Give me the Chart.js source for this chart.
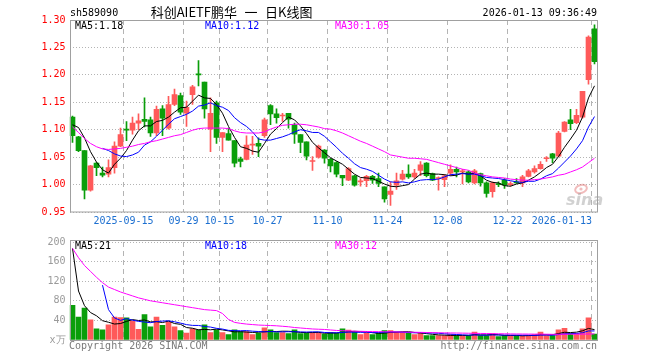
<!DOCTYPE html>
<html>
<head>
<meta charset="utf-8">
<script src="https://cdn.jsdelivr.net/npm/chart.js@4.4.1/dist/chart.umd.min.js"></script>
<style>
  html, body { margin: 0; padding: 0; background: #fff; }
  #wrap { position: relative; width: 660px; height: 360px; overflow: hidden; }
  #kline { position: absolute; left: 0; top: 0; }
  #vol { position: absolute; left: 0; top: 232px; }
</style>
</head>
<body>
<div id="wrap">
  <canvas id="kline" width="660" height="232"></canvas>
  <canvas id="vol" width="660" height="128"></canvas>
</div>
<script>
// trading days shown on the chart
const dates = [
  '2025-09-02','2025-09-03','2025-09-04','2025-09-05','2025-09-08','2025-09-09','2025-09-10','2025-09-11','2025-09-12','2025-09-15',
  '2025-09-16','2025-09-17','2025-09-18','2025-09-19','2025-09-22','2025-09-23','2025-09-24','2025-09-25','2025-09-26','2025-09-29',
  '2025-09-30','2025-10-09','2025-10-10','2025-10-13','2025-10-14','2025-10-15','2025-10-16','2025-10-17','2025-10-20','2025-10-21',
  '2025-10-22','2025-10-23','2025-10-24','2025-10-27','2025-10-28','2025-10-29','2025-10-30','2025-10-31','2025-11-03','2025-11-04',
  '2025-11-05','2025-11-06','2025-11-07','2025-11-10','2025-11-11','2025-11-12','2025-11-13','2025-11-14','2025-11-17','2025-11-18',
  '2025-11-19','2025-11-20','2025-11-21','2025-11-24','2025-11-25','2025-11-26','2025-11-27','2025-11-28','2025-12-01','2025-12-02',
  '2025-12-03','2025-12-04','2025-12-05','2025-12-08','2025-12-09','2025-12-10','2025-12-11','2025-12-12','2025-12-15','2025-12-16',
  '2025-12-17','2025-12-18','2025-12-19','2025-12-22','2025-12-23','2025-12-24','2025-12-25','2025-12-26','2025-12-29','2025-12-30',
  '2025-12-31','2026-01-05','2026-01-06','2026-01-07','2026-01-08','2026-01-09','2026-01-12','2026-01-13'
];

const open = [
  1.123,1.087,1.062,0.990,1.039,1.021,1.019,1.031,1.070,1.101,
  1.099,1.112,1.119,1.118,1.094,1.138,1.103,1.146,1.162,1.130,
  1.164,1.201,1.187,1.101,1.149,1.086,1.093,1.080,1.047,1.046,
  1.072,1.075,1.089,1.144,1.129,1.125,1.130,1.109,1.091,1.078,
  1.042,1.050,1.063,1.046,1.040,1.017,1.008,1.016,1.005,1.007,
  1.015,1.011,0.996,0.982,0.999,1.010,1.019,1.014,1.026,1.039,
  1.020,1.011,1.009,1.021,1.028,1.023,1.023,1.003,1.020,1.003,
  0.987,1.001,1.008,1.000,1.005,1.003,1.015,1.023,1.029,1.047,
  1.056,1.052,1.097,1.118,1.113,1.123,1.191,1.284
];
const high = [
  1.125,1.088,1.062,1.035,1.040,1.032,1.045,1.078,1.103,1.115,
  1.123,1.129,1.158,1.123,1.143,1.144,1.161,1.174,1.167,1.152,
  1.181,1.226,1.187,1.158,1.152,1.095,1.103,1.080,1.050,1.089,
  1.088,1.085,1.121,1.146,1.138,1.130,1.130,1.112,1.091,1.078,
  1.051,1.072,1.064,1.048,1.042,1.017,1.031,1.017,1.011,1.017,
  1.017,1.021,0.996,1.005,1.021,1.026,1.036,1.028,1.042,1.040,
  1.021,1.014,1.018,1.036,1.032,1.028,1.025,1.028,1.021,1.005,
  1.005,1.005,1.011,1.005,1.011,1.017,1.028,1.034,1.042,1.051,
  1.057,1.097,1.115,1.137,1.137,1.170,1.271,1.291
];
const low = [
  1.077,1.060,0.974,0.988,1.016,1.014,1.014,1.021,1.069,1.080,
  1.092,1.100,1.105,1.088,1.089,1.089,1.101,1.144,1.128,1.106,
  1.146,1.180,1.121,1.060,1.075,1.060,1.081,1.032,1.032,1.045,
  1.055,1.051,1.086,1.109,1.112,1.115,1.103,1.075,1.058,1.045,
  1.026,1.048,1.039,1.023,1.014,0.998,1.007,0.997,0.997,0.996,
  1.002,0.996,0.968,0.962,0.991,1.008,1.011,1.011,1.016,1.014,
  1.007,0.990,0.996,1.016,1.014,1.001,1.003,1.001,0.997,0.977,
  0.977,0.996,0.993,0.997,1.002,0.996,1.014,1.021,1.028,1.042,
  1.040,1.051,1.096,1.100,1.111,1.121,1.183,1.220
];
const close = [
  1.089,1.062,0.990,1.034,1.031,1.017,1.031,1.070,1.091,1.099,
  1.112,1.116,1.115,1.094,1.137,1.121,1.146,1.164,1.132,1.141,
  1.178,1.200,1.138,1.130,1.086,1.095,1.081,1.039,1.042,1.072,
  1.073,1.070,1.118,1.129,1.122,1.126,1.119,1.092,1.077,1.052,
  1.043,1.070,1.048,1.034,1.019,1.012,1.029,0.999,1.006,1.015,
  1.008,1.002,0.974,0.988,1.007,1.019,1.014,1.021,1.036,1.016,
  1.008,1.012,1.016,1.028,1.023,1.024,1.005,1.025,1.003,0.984,
  1.003,1.000,0.999,1.001,1.003,1.014,1.025,1.029,1.037,1.048,
  1.048,1.094,1.114,1.111,1.126,1.170,1.269,1.224
];

// price moving averages as drawn on the chart
const ma5 = [
  1.109,1.104,1.085,1.060,1.041,1.027,1.021,1.037,1.048,1.062,
  1.081,1.098,1.107,1.107,1.115,1.117,1.123,1.132,1.140,1.141,
  1.152,1.163,1.158,1.157,1.146,1.130,1.106,1.086,1.069,1.066,
  1.061,1.059,1.075,1.092,1.102,1.113,1.123,1.118,1.107,1.093,
  1.077,1.067,1.058,1.049,1.043,1.037,1.028,1.019,1.013,1.012,
  1.011,1.006,1.001,0.997,0.996,0.998,1.000,1.010,1.019,1.021,
  1.019,1.019,1.018,1.016,1.017,1.021,1.019,1.021,1.016,1.008,
  1.004,1.003,0.998,0.997,1.001,1.003,1.008,1.014,1.022,1.031,
  1.037,1.051,1.068,1.083,1.099,1.123,1.158,1.180
];
const ma10 = [
  null,null,null,null,null,1.066,1.062,1.056,1.052,1.051,
  1.054,1.059,1.072,1.078,1.088,1.099,1.110,1.120,1.124,1.128,
  1.134,1.143,1.145,1.149,1.144,1.141,1.135,1.122,1.113,1.106,
  1.096,1.083,1.081,1.081,1.084,1.087,1.091,1.096,1.100,1.098,
  1.095,1.095,1.088,1.078,1.068,1.057,1.048,1.038,1.031,1.028,
  1.024,1.017,1.010,1.005,1.004,1.005,1.003,1.005,1.008,1.009,
  1.009,1.010,1.014,1.018,1.019,1.020,1.019,1.019,1.016,1.013,
  1.012,1.011,1.009,1.007,1.005,1.004,1.006,1.006,1.010,1.016,
  1.020,1.030,1.041,1.052,1.065,1.080,1.105,1.124
];
const ma30 = [
  1.105,1.095,1.084,1.075,1.069,1.065,1.064,1.065,1.066,1.068,
  1.070,1.073,1.075,1.078,1.080,1.083,1.086,1.089,1.091,1.095,
  1.099,1.102,1.103,1.103,1.103,1.103,1.102,1.098,1.095,1.094,
  1.094,1.094,1.096,1.101,1.105,1.108,1.109,1.110,1.110,1.109,
  1.107,1.105,1.102,1.101,1.098,1.094,1.089,1.084,1.079,1.075,
  1.070,1.065,1.060,1.054,1.052,1.050,1.048,1.048,1.047,1.046,
  1.043,1.040,1.037,1.034,1.031,1.028,1.026,1.021,1.018,1.016,
  1.014,1.013,1.012,1.010,1.009,1.008,1.008,1.009,1.010,1.012,
  1.014,1.017,1.019,1.023,1.027,1.032,1.040,1.048
];

// volume in 万 (10k) shares
const volume = [
  71,47,65,41,23,21,31,47,46,45,
  39,22,52,27,47,30,37,27,19,14,
  23,21,31,15,21,15,11,21,17,17,
  11,14,25,21,15,15,13,21,13,14,
  15,15,12,15,14,23,20,17,11,15,
  11,14,19,19,16,16,15,11,14,9,
  9,9,9,11,9,9,9,16,9,9,
  13,7,9,9,9,9,9,11,16,9,
  9,21,24,13,13,23,45,12
];
const volMa5 = [
  187,100,70,56,49.4,39.4,36.2,32.6,33.6,38,
  41.6,39.8,40.8,37,37.4,35.6,38.6,33.6,32,25.4,
  24,20.8,21.6,20.8,22.2,20.6,18.6,16.6,17,16.2,
  15.4,16,16.8,17.6,17.2,18,17.8,17,15.4,15.2,
  15.2,15.6,13.8,14.2,14.2,15.8,16.8,17.8,17,17.2,
  14.8,13.6,14,15.6,15.8,16.8,17,15.4,14.4,13,
  11.6,10.4,10,9.4,9.4,9.4,9.4,10.8,10.4,10.4,
  11.2,10.8,9.4,9.4,9.4,8.6,9,9.4,10.8,10.8,
  10.8,13.2,15.8,15.2,16,18.8,23.6,21.2
];
const volMa10 = [
  null,null,null,null,null,112,62,45,40,43.7,
  40.5,38,36.7,35.3,37.7,38.6,39.2,37.2,34.5,31.4,
  29.8,29.7,27.6,26.4,23.8,22.3,19.7,19.1,18.9,19.2,
  18,17.3,16.7,17.3,16.7,16.7,16.9,16.9,16.5,16.2,
  16.6,16.7,15.4,14.8,14.7,15.5,16.2,15.8,15.6,15.7,
  15.3,15.2,15.9,16.3,16.5,15.8,15.3,14.7,15,14.4,
  14.2,13.7,12.7,11.9,11.2,10.5,9.9,10.4,9.9,9.9,
  10.3,10.1,10.1,9.9,9.9,9.9,9.9,9.4,10.1,10.1,
  9.7,11.1,12.6,13,13.4,14.8,18.4,18.5
];
const volMa30 = [
  187,168,152,140,128,117,108,103,98,94,
  90,86,83,80,78,76,74,72,70,68,
  66,64,62,61,60,54,42,36,34,32.5,
  31.5,30.5,30,29.5,29,28,27,25.5,24.5,23.5,
  22.5,22,21.5,20.5,19.5,19,18.5,18,17.7,17.4,
  17.2,17,16.8,16.6,16.4,16.2,16,15.8,15.6,15.3,
  15,14.8,14.6,14.4,14.2,14,13.8,13.6,13.4,13.2,
  13,12.8,12.6,12.4,12.3,12.2,12.1,12,12,11.8,
  11.6,11.6,11.7,11.8,11.8,12,12.2,12.4
];

const tickDates = ['2025-09-15','2025-09-29','2025-10-15','2025-10-27','2025-11-10','2025-11-24','2025-12-08','2025-12-22','2026-01-13'];
const tickText  = ['2025-09-15','09-29','10-15','10-27','11-10','11-24','12-08','12-22','2026-01-13'];
const priceMin = 0.95, priceMax = 1.30, priceStep = 0.05;
const volMin = 0, volMax = 200, volStep = 40;

const MONO = '"DejaVu Sans Mono", monospace';
const CJK = '"Noto Sans CJK SC", sans-serif';
const RED = '#ff5a5a';
const GREEN = '#0a9e0a';
const GRID = '#b4b4b4';
const FRAME = '#a0a0a0';

const tickIdx = tickDates.map(d => dates.indexOf(d));
const candleColors = close.map((c, i) => c >= open[i] ? RED : GREEN);

function text(ctx, str, x, y, color, font, align) {
    ctx.fillStyle = color;
    ctx.font = font;
    ctx.textAlign = align || 'left';
    ctx.textBaseline = 'middle';
    ctx.fillText(str, x, y);
}

function xAxis() {
    return {
        type: 'category',
        offset: true,
        grid: {
            offset: true,
            drawTicks: false,
            lineWidth: 1,
            color: ctx => tickIdx.includes(ctx.index) ? GRID : 'rgba(0,0,0,0)'
        },
        border: { display: false, dash: [5, 4] },
        ticks: { display: false, autoSkip: false },
        afterFit: s => { s.height = 20; }
    };
}

function maLine(label, data, color, order) {
    return {
        type: 'line', label: label, data: data,
        borderColor: color, borderWidth: 1,
        pointRadius: 0, tension: 0, spanGaps: false, order: order
    };
}

const priceDecor = {
    id: 'priceDecor',
    beforeDatasetsDraw(chart) {
        // faint sina watermark, bottom right of the price pane
        const ctx = chart.ctx;
        ctx.save();
        ctx.globalAlpha = 0.45;
        ctx.strokeStyle = '#e06a6a';
        ctx.lineWidth = 2;
        ctx.beginPath();
        ctx.ellipse(581, 189, 6, 4, -0.3, 0, Math.PI * 2);
        ctx.stroke();
        ctx.fillStyle = '#e06a6a';
        ctx.beginPath();
        ctx.arc(581, 189, 1.6, 0, Math.PI * 2);
        ctx.fill();
        text(ctx, 'sina', 566, 201, '#9a9a9a', 'italic bold 16px "DejaVu Sans", sans-serif');
        ctx.restore();
    },
    afterDraw(chart) {
        const { ctx, scales: { x } } = chart;
        const a = chart.chartArea;
        ctx.save();
        ctx.strokeStyle = FRAME;
        ctx.lineWidth = 1;
        ctx.strokeRect(70.5, 20.5, 527, 191.5);

        text(ctx, 'sh589090', 70, 13, '#000', '10px ' + MONO);
        text(ctx, '科创AIETF鹏华', 237, 12, '#000', '13px ' + CJK, 'right');
        text(ctx, '一', 251, 12, '#000', '13px ' + CJK, 'center');
        text(ctx, '日K线图', 265, 12, '#000', '13px ' + CJK);
        text(ctx, '2026-01-13 09:36:49', 597, 13, '#000', '10px ' + MONO, 'right');

        text(ctx, 'MA5:1.18', 75, 26, '#000', '10px ' + MONO);
        text(ctx, 'MA10:1.12', 205, 26, '#0000ff', '10px ' + MONO);
        text(ctx, 'MA30:1.05', 335, 26, '#ff00ff', '10px ' + MONO);

        ctx.font = '10px ' + MONO;
        tickIdx.forEach((k, n) => {
            const px = x.getPixelForValue(k) - 3;
            const w = ctx.measureText(tickText[n]).width;
            if (px + w / 2 > a.right - 5) {
                text(ctx, tickText[n], a.right - 5.5, 221, '#1c6fd0', '10px ' + MONO, 'right');
            } else {
                text(ctx, tickText[n], px, 221, '#1c6fd0', '10px ' + MONO, 'center');
            }
        });
        ctx.restore();
    }
};

const volDecor = {
    id: 'volDecor',
    afterDraw(chart) {
        const ctx = chart.ctx;
        ctx.save();
        ctx.strokeStyle = FRAME;
        ctx.lineWidth = 1;
        ctx.strokeRect(70.5, 8.5, 527, 100);
        text(ctx, 'MA5:21', 75, 14, '#000', '10px ' + MONO);
        text(ctx, 'MA10:18', 205, 14, '#0000ff', '10px ' + MONO);
        text(ctx, 'MA30:12', 335, 14, '#ff00ff', '10px ' + MONO);
        text(ctx, 'Copyright 2026 SINA.COM', 69, 114, '#7a7a7a', '10px ' + MONO);
        text(ctx, 'http://finance.sina.com.cn', 597, 114, '#7a7a7a', '10px ' + MONO, 'right');
        ctx.restore();
    }
};

const common = {
    responsive: false,
    devicePixelRatio: 1,
    animation: false,
    events: [],
    plugins: { legend: { display: false }, tooltip: { enabled: false } }
};

new Chart(document.getElementById('kline').getContext('2d'), {
    type: 'bar',
    data: {
        labels: dates,
        datasets: [
            maLine('MA30', ma30, '#ff00ff', 1),
            maLine('MA10', ma10, '#0000ff', 2),
            maLine('MA5', ma5, '#000000', 3),
            {
                label: 'body', data: open.map((o, i) => [o, close[i]]),
                backgroundColor: candleColors, barThickness: 5, minBarLength: 1,
                grouped: false, order: 4
            },
            {
                label: 'wick', data: low.map((l, i) => [l, high[i]]),
                backgroundColor: candleColors, barThickness: 1,
                grouped: false, order: 5
            }
        ]
    },
    options: Object.assign({}, common, {
        layout: { padding: { left: 0, right: 62.5, top: 20, bottom: 0 } },
        scales: {
            x: xAxis(),
            y: {
                position: 'left', min: priceMin, max: priceMax,
                ticks: {
                    stepSize: priceStep, color: '#ff0000', padding: 4,
                    font: { family: MONO, size: 10 },
                    callback: v => Number(v).toFixed(2)
                },
                grid: { drawTicks: false, color: GRID, lineWidth: 1 },
                border: { display: false, dash: [1, 2] },
                afterFit: s => { s.width = 69.5; }
            }
        }
    }),
    plugins: [priceDecor]
});

new Chart(document.getElementById('vol').getContext('2d'), {
    type: 'bar',
    data: {
        labels: dates,
        datasets: [
            maLine('MA30', volMa30, '#ff00ff', 1),
            maLine('MA10', volMa10, '#0000ff', 2),
            maLine('MA5', volMa5, '#000000', 3),
            {
                label: 'volume', data: volume,
                backgroundColor: candleColors, barThickness: 5,
                grouped: false, order: 4
            }
        ]
    },
    options: Object.assign({}, common, {
        layout: { padding: { left: 0, right: 62.5, top: 8, bottom: 0 } },
        scales: {
            x: xAxis(),
            y: {
                position: 'left', min: volMin, max: volMax,
                ticks: {
                    stepSize: volStep, color: '#9a9a9a', padding: 4,
                    font: { family: MONO, size: 10 },
                    callback: v => v === 0 ? 'x万' : v
                },
                grid: { drawTicks: false, color: GRID, lineWidth: 1 },
                border: { display: false, dash: [1, 2] },
                afterFit: s => { s.width = 69.5; }
            }
        }
    }),
    plugins: [volDecor]
});
</script>
</body>
</html>
